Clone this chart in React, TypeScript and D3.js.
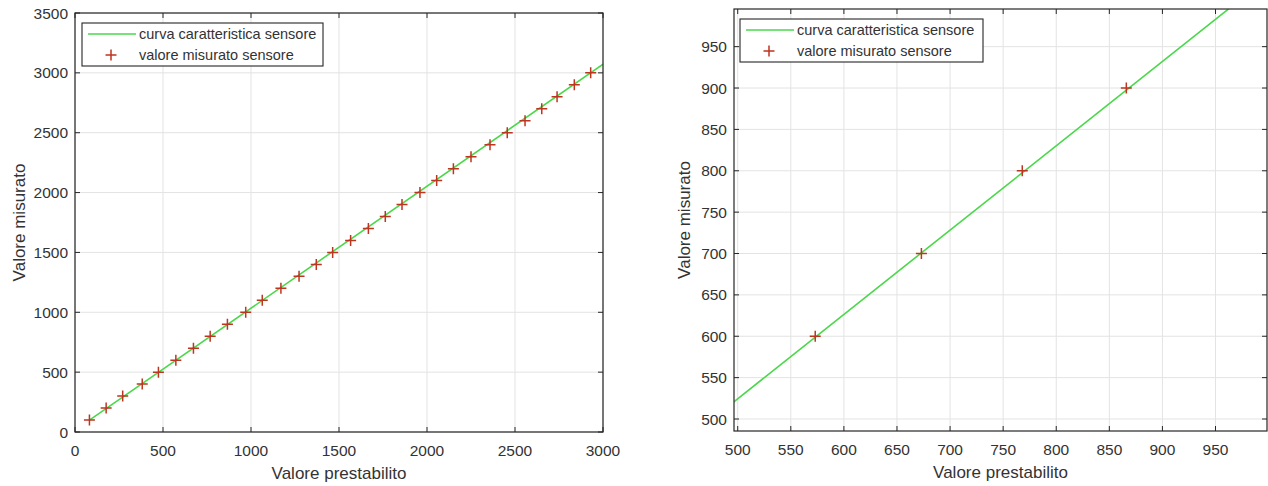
import { useEffect, useRef } from "react";
import * as d3 from "d3";

// valori prestabiliti (asse x) e misurati (asse y)
const presetValues = [
  82, 177, 271, 382, 474, 573, 673, 768, 866, 970, 1064, 1170, 1273, 1371, 1464,
  1566, 1667, 1763, 1858, 1960, 2055, 2150, 2250, 2358, 2456, 2557, 2652, 2739,
  2837, 2930,
];
const measuredValues = [
  100, 200, 300, 400, 500, 600, 700, 800, 900, 1000, 1100, 1200, 1300, 1400,
  1500, 1600, 1700, 1800, 1900, 2000, 2100, 2200, 2300, 2400, 2500, 2600, 2700,
  2800, 2900, 3000,
];

// curva caratteristica: y = slope * x + intercept
const curveSlope = 1.019;
const curveIntercept = 15;
const curveRange = [82, 3100];

const leftTicksX = [0, 500, 1000, 1500, 2000, 2500, 3000];
const leftTicksY = [0, 500, 1000, 1500, 2000, 2500, 3000, 3500];
const rightTicks = [500, 550, 600, 650, 700, 750, 800, 850, 900, 950];

const legendLabels = ["curva caratteristica sensore", "valore misurato sensore"];

const FONT = "'Liberation Sans', Arial, sans-serif";
const AXIS = "#262626";
const TEXT = "#333333";
const GRID = "#e3e3e3";
const GREEN = "#4ad84a";
const RED = "#bd3520";

interface PanelSpec {
  id: string;
  left: number;
  right: number;
  top: number;
  bottom: number;
  xDomain: [number, number];
  yDomain: [number, number];
  xTicks: number[];
  yTicks: number[];
  legend: { x: number; y: number; w: number; h: number };
  yLabelX: number;
}

const panels: PanelSpec[] = [
  {
    id: "a",
    left: 75,
    right: 603,
    top: 13,
    bottom: 432,
    xDomain: [0, 3000],
    yDomain: [0, 3500],
    xTicks: leftTicksX,
    yTicks: leftTicksY,
    legend: { x: 82, y: 23, w: 241, h: 43 },
    yLabelX: 19,
  },
  {
    id: "b",
    left: 734,
    right: 1267,
    top: 9,
    bottom: 431,
    xDomain: [496.5, 998.5],
    yDomain: [485.5, 995.5],
    xTicks: rightTicks,
    yTicks: rightTicks,
    legend: { x: 740, y: 19, w: 243, h: 43 },
    yLabelX: 684,
  },
];

const crossPath = (cx: number, cy: number, r: number) =>
  `M${cx - r},${cy}H${cx + r}M${cx},${cy - r}V${cy + r}`;

function drawPanel(root: d3.Selection<SVGSVGElement, unknown, null, undefined>, p: PanelSpec) {
  const x = d3.scaleLinear().domain(p.xDomain).range([p.left, p.right]);
  const y = d3.scaleLinear().domain(p.yDomain).range([p.bottom, p.top]);
  const g = root.append("g");

  g.append("clipPath")
    .attr("id", `clip-${p.id}`)
    .append("rect")
    .attr("x", p.left)
    .attr("y", p.top)
    .attr("width", p.right - p.left)
    .attr("height", p.bottom - p.top);

  // griglia
  g.selectAll(".gx")
    .data(p.xTicks)
    .join("line")
    .attr("x1", (d) => x(d))
    .attr("x2", (d) => x(d))
    .attr("y1", p.top)
    .attr("y2", p.bottom)
    .attr("stroke", GRID);
  g.selectAll(".gy")
    .data(p.yTicks)
    .join("line")
    .attr("y1", (d) => y(d))
    .attr("y2", (d) => y(d))
    .attr("x1", p.left)
    .attr("x2", p.right)
    .attr("stroke", GRID);

  // curva
  const curve = curveRange.map((v) => [v, curveSlope * v + curveIntercept] as [number, number]);
  g.append("path")
    .attr("clip-path", `url(#clip-${p.id})`)
    .attr("d", d3.line<[number, number]>().x((d) => x(d[0])).y((d) => y(d[1]))(curve))
    .attr("fill", "none")
    .attr("stroke", GREEN)
    .attr("stroke-width", 1.6);

  // punti misurati
  const pts = presetValues
    .map((v, i) => [v, measuredValues[i]] as [number, number])
    .filter((d) => d[0] >= p.xDomain[0] && d[0] <= p.xDomain[1] && d[1] >= p.yDomain[0] && d[1] <= p.yDomain[1]);
  g.selectAll(".pt")
    .data(pts)
    .join("path")
    .attr("d", (d) => crossPath(x(d[0]), y(d[1]), 5.5))
    .attr("stroke", RED)
    .attr("stroke-width", 1.5)
    .attr("fill", "none");

  // tick interni su tutti i lati
  const tl = 5;
  p.xTicks.forEach((t) => {
    g.append("line").attr("x1", x(t)).attr("x2", x(t)).attr("y1", p.bottom).attr("y2", p.bottom - tl).attr("stroke", AXIS);
    g.append("line").attr("x1", x(t)).attr("x2", x(t)).attr("y1", p.top).attr("y2", p.top + tl).attr("stroke", AXIS);
  });
  p.yTicks.forEach((t) => {
    g.append("line").attr("y1", y(t)).attr("y2", y(t)).attr("x1", p.left).attr("x2", p.left + tl).attr("stroke", AXIS);
    g.append("line").attr("y1", y(t)).attr("y2", y(t)).attr("x1", p.right).attr("x2", p.right - tl).attr("stroke", AXIS);
  });

  g.append("rect")
    .attr("x", p.left)
    .attr("y", p.top)
    .attr("width", p.right - p.left)
    .attr("height", p.bottom - p.top)
    .attr("fill", "none")
    .attr("stroke", AXIS)
    .attr("stroke-width", 1.2);

  g.selectAll(".xl")
    .data(p.xTicks)
    .join("text")
    .attr("x", (d) => x(d))
    .attr("y", p.bottom + 24)
    .attr("text-anchor", "middle")
    .attr("font-size", 15.5)
    .attr("font-family", FONT)
    .attr("fill", TEXT)
    .text((d) => d);
  g.selectAll(".yl")
    .data(p.yTicks)
    .join("text")
    .attr("x", p.left - 7)
    .attr("y", (d) => y(d) + 5.5)
    .attr("text-anchor", "end")
    .attr("font-size", 15.5)
    .attr("font-family", FONT)
    .attr("fill", TEXT)
    .text((d) => d);

  g.append("text")
    .attr("x", (p.left + p.right) / 2)
    .attr("y", p.bottom + 47)
    .attr("text-anchor", "middle")
    .attr("font-size", 17)
    .attr("font-family", FONT)
    .attr("fill", TEXT)
    .text("Valore prestabilito");
  g.append("text")
    .attr("transform", `translate(${p.yLabelX},${(p.top + p.bottom) / 2}) rotate(-90)`)
    .attr("dy", "0.35em")
    .attr("text-anchor", "middle")
    .attr("font-size", 17)
    .attr("font-family", FONT)
    .attr("fill", TEXT)
    .text("Valore misurato");

  // legenda
  const lg = p.legend;
  g.append("rect")
    .attr("x", lg.x)
    .attr("y", lg.y)
    .attr("width", lg.w)
    .attr("height", lg.h)
    .attr("fill", "white")
    .attr("stroke", AXIS)
    .attr("stroke-width", 1.1);
  const row1 = lg.y + 11;
  const row2 = lg.y + 32;
  g.append("line")
    .attr("x1", lg.x + 6)
    .attr("x2", lg.x + 54)
    .attr("y1", row1)
    .attr("y2", row1)
    .attr("stroke", GREEN)
    .attr("stroke-width", 1.6);
  g.append("path")
    .attr("d", crossPath(lg.x + 29, row2, 5.5))
    .attr("stroke", RED)
    .attr("stroke-width", 1.5);
  legendLabels.forEach((t, i) => {
    g.append("text")
      .attr("x", lg.x + 57)
      .attr("y", (i === 0 ? row1 : row2) + 5)
      .attr("font-size", 14.5)
      .attr("font-family", FONT)
      .attr("fill", TEXT)
      .text(t);
  });
}

export default function App() {
  const svgRef = useRef<SVGSVGElement | null>(null);

  useEffect(() => {
    const svg = d3.select(svgRef.current!);
    svg.html("");
    panels.forEach((p) => drawPanel(svg as any, p));
  }, []);

  return (
    <svg
      ref={svgRef}
      width={1268}
      height={486}
      style={{ position: "absolute", left: 0, top: 0, background: "white" }}
    ></svg>
  );
}
